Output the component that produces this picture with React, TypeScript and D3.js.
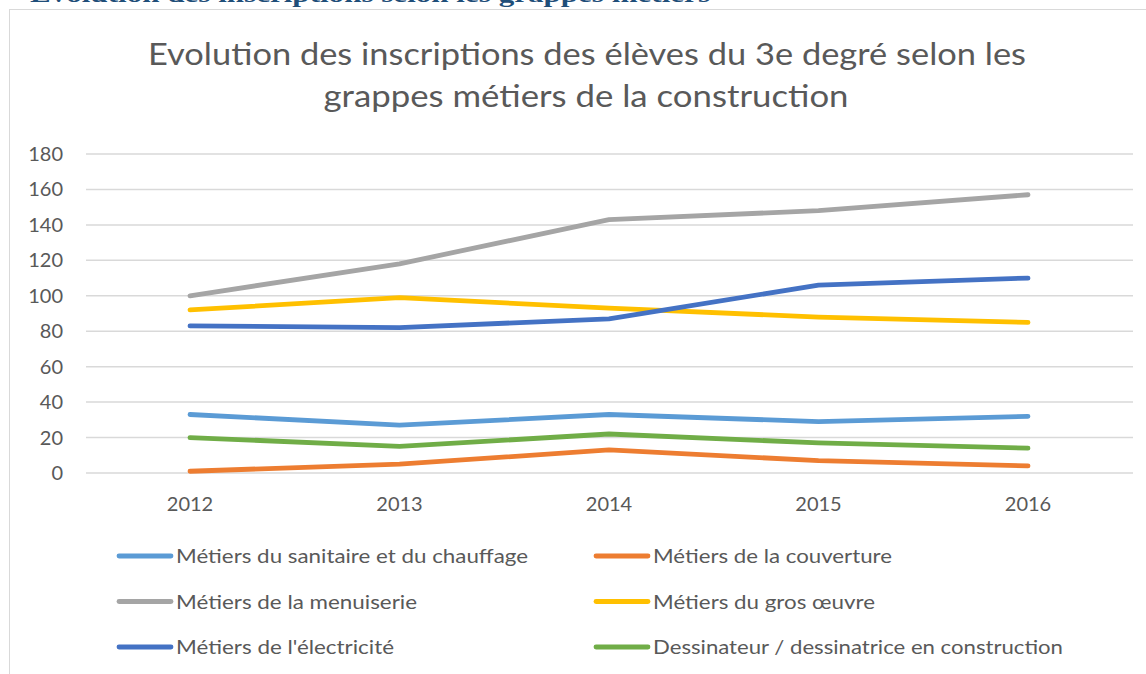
import React from "react";
import * as d3 from "d3";

const years = ["2012", "2013", "2014", "2015", "2016"];
const yTicks = [0, 20, 40, 60, 80, 100, 120, 140, 160, 180];

const sanitaire = [33, 27, 33, 29, 32];
const couverture = [1, 5, 13, 7, 4];
const menuiserie = [100, 118, 143, 148, 157];
const grosOeuvre = [92, 99, 93, 88, 85];
const electricite = [83, 82, 87, 106, 110];
const dessinateur = [20, 15, 22, 17, 14];

const seriesNames = [
  "Métiers du sanitaire et du chauffage",
  "Métiers de la couverture",
  "Métiers de la menuiserie",
  "Métiers du gros œuvre",
  "Métiers de l'électricité",
  "Dessinateur / dessinatrice en construction",
];
const seriesValues = [sanitaire, couverture, menuiserie, grosOeuvre, electricite, dessinateur];
const seriesColors = ["#5B9BD5", "#ED7D31", "#A5A5A5", "#FFC000", "#4472C4", "#70AD47"];
// legend text widths (px) to match reference layout
const legendWidths = [352, 239, 241, 222, 218, 410];

const titleLines = [
  "Evolution des inscriptions des élèves du 3e degré selon les",
  "grappes métiers de la construction",
];
const headingText = "Evolution des inscriptions selon les grappes métiers";

const FONT = "Lato, 'Open Sans', sans-serif";

export default function App() {
  const W = 1146;
  const H = 674;
  const x = d3.scalePoint<string>().domain(years).range([190, 1028]);
  const y = d3.scaleLinear().domain([0, 180]).range([473, 154]);
  const gridLeft = 86;
  const gridRight = 1133;

  const line = d3
    .line<number>()
    .x((_, i) => x(years[i]) as number)
    .y((d) => y(d));

  return (
    <svg
      width={W}
      height={H}
      style={{ position: "absolute", left: 0, top: 0, display: "block", background: "#fff" }}
    >
      <text
        x={30}
        y={1.5}
        fontFamily="'Liberation Serif', 'DejaVu Serif', serif"
        fontWeight="bold"
        fontSize={24}
        fill="#1F4E79"
        textLength={680}
        lengthAdjust="spacingAndGlyphs"
      >
        {headingText}
      </text>
      <rect x={9.5} y={9.5} width={W + 20} height={H + 20} fill="#fff" stroke="#D9D9D9" strokeWidth={1} />

      {/* title */}
      <text
        x={587}
        y={65}
        textAnchor="middle"
        fontFamily={FONT}
        fontSize={31}
        fill="#595959"
        textLength={878}
        lengthAdjust="spacingAndGlyphs"
      >
        {titleLines[0]}
      </text>
      <text
        x={586}
        y={107}
        textAnchor="middle"
        fontFamily={FONT}
        fontSize={31}
        fill="#595959"
        textLength={525}
        lengthAdjust="spacingAndGlyphs"
      >
        {titleLines[1]}
      </text>

      {/* gridlines and y labels */}
      {yTicks.map((t) => (
        <g key={t}>
          <line x1={gridLeft} x2={gridRight} y1={y(t)} y2={y(t)} stroke="#D9D9D9" strokeWidth={1.5} />
          <text
            x={63}
            y={y(t) + 7}
            textAnchor="end"
            fontFamily={FONT}
            fontSize={20}
            fill="#595959"
          >
            {t}
          </text>
        </g>
      ))}

      {/* x labels */}
      {years.map((yr) => (
        <text
          key={yr}
          x={x(yr) as number}
          y={511}
          textAnchor="middle"
          fontFamily={FONT}
          fontSize={20}
          fill="#595959"
        >
          {yr}
        </text>
      ))}

      {/* series lines */}
      {seriesValues.map((vals, i) => (
        <path
          key={seriesNames[i]}
          d={line(vals) || ""}
          fill="none"
          stroke={seriesColors[i]}
          strokeWidth={4.8}
          strokeLinecap="round"
          strokeLinejoin="round"
        />
      ))}

      {/* legend */}
      {seriesNames.map((name, i) => {
        const col = i % 2;
        const row = Math.floor(i / 2);
        const lx = col === 0 ? 119 : 596;
        const cy = 556 + row * 45.5;
        return (
          <g key={name}>
            <line
              x1={lx}
              x2={lx + 52}
              y1={cy}
              y2={cy}
              stroke={seriesColors[i]}
              strokeWidth={4.8}
              strokeLinecap="round"
            />
            <text
              x={lx + 57}
              y={cy + 7}
              fontFamily={FONT}
              fontSize={19}
              fill="#595959"
              textLength={legendWidths[i]}
              lengthAdjust="spacingAndGlyphs"
            >
              {name}
            </text>
          </g>
        );
      })}
    </svg>
  );
}
